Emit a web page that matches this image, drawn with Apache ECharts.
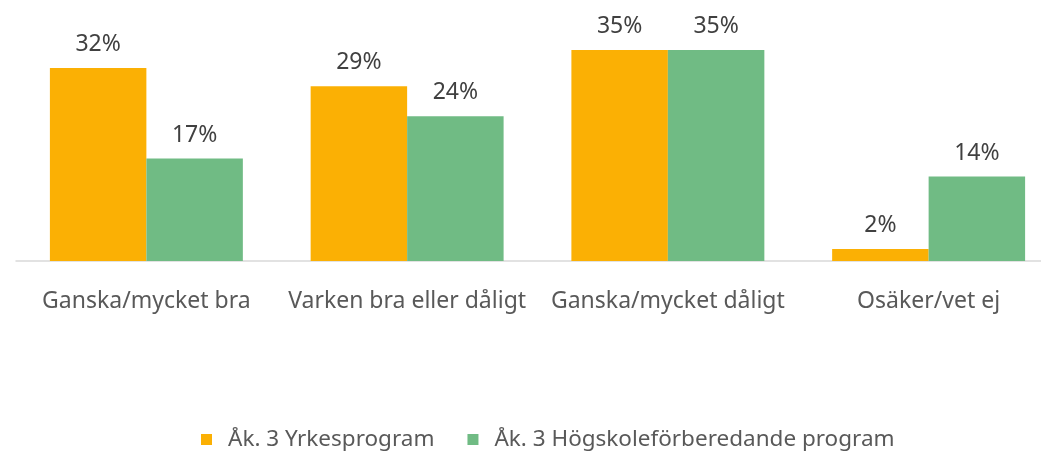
<!DOCTYPE html>
<html>
<head>
<meta charset="utf-8">
<script src="https://cdn.jsdelivr.net/npm/echarts@6/dist/echarts.min.js"></script>
<style>
  html, body { margin: 0; padding: 0; background: #fff; }
  #chart { width: 1041px; height: 453px; }
</style>
</head>
<body>
<div id="chart"></div>
<script>
// kategorier och andelar (procent)
var categories = ['Ganska/mycket bra', 'Varken bra eller dåligt', 'Ganska/mycket dåligt', 'Osäker/vet ej'];
var seriesNames = ['Åk. 3 Yrkesprogram', 'Åk. 3 Högskoleförberedande program'];
var yrkesValues = [32, 29, 35, 2];
var hogskoleValues = [17, 24, 35, 14];

var textFont = '"Noto Sans", "Open Sans", sans-serif';

var valueLabel = {
    show: true,
    position: 'top',
    distance: 12,
    formatter: '{c}%',
    fontFamily: textFont,
    fontSize: 23,
    color: '#404040'
};

var chart = echarts.init(document.getElementById('chart'));
chart.setOption({
    animation: false,
    grid: {
        left: 16,
        top: 50,
        width: 1043,
        height: 211,
        outerBoundsMode: 'none',
        containLabel: false
    },
    legend: {
        data: seriesNames,
        top: 423,
        left: 196,
        itemWidth: 11,
        itemHeight: 11,
        itemGap: 33,
        icon: 'rect',
        textStyle: {
            fontFamily: textFont,
            fontSize: 22.5,
            color: '#595959',
            padding: [0, 0, 0, 11]
        }
    },
    xAxis: {
        type: 'category',
        data: categories,
        axisTick: { show: false },
        axisLine: { lineStyle: { color: '#d9d9d9', width: 1.5 } },
        axisLabel: {
            fontFamily: textFont,
            fontSize: 23,
            color: '#595959',
            margin: 29,
            interval: 0
        }
    },
    yAxis: {
        type: 'value',
        min: 0,
        max: 35,
        show: false,
        splitLine: { show: false }
    },
    series: [{
        name: seriesNames[0],
        type: 'bar',
        data: yrkesValues,
        barGap: '0%',
        barCategoryGap: '26%',
        itemStyle: { color: '#fbb004' },
        label: valueLabel
    }, {
        name: seriesNames[1],
        type: 'bar',
        data: hogskoleValues,
        itemStyle: { color: '#70bb84' },
        label: valueLabel
    }]
});
</script>
</body>
</html>
